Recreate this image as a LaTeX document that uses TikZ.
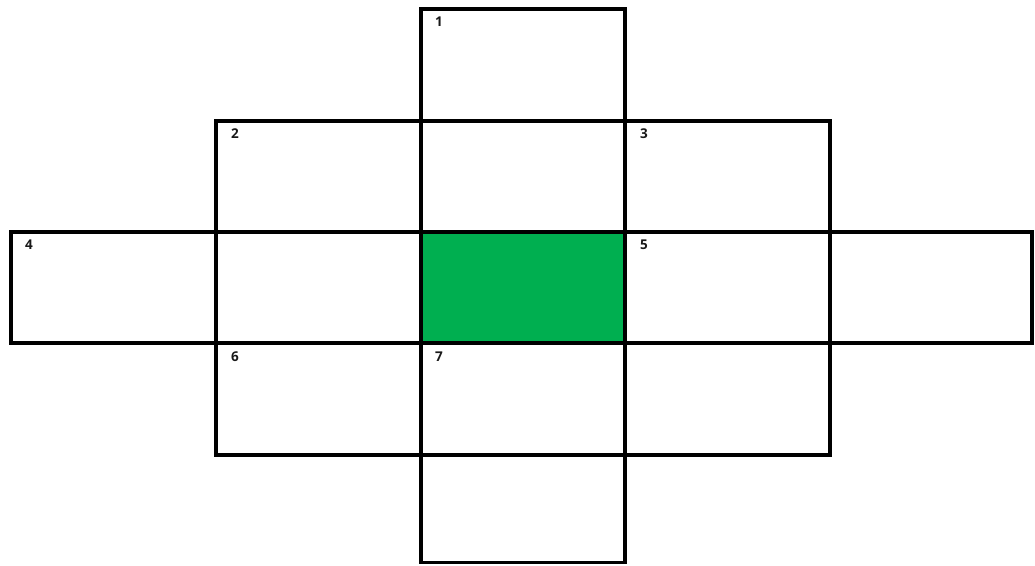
\documentclass[tikz,border=0pt]{standalone}
\usepackage{fontspec}
\setmainfont{Open Sans}
\definecolor{cellgreen}{HTML}{00AF50}
\tikzset{
  cell/.style={draw=black, line width=3.6pt, line join=miter},
  greencell/.style={cell, fill=cellgreen},
  num/.style={anchor=west, inner sep=0pt, font=\fontsize{13.5}{14}\selectfont\bfseries, text=black!90}
}
\begin{document}
\begin{tikzpicture}[x=1pt,y=-1pt]
\useasboundingbox (0,0) rectangle (1035,565);
% column edges: 11, 216, 421, 625, 830, 1032 ; row edges: 9, 121, 232, 343, 455, 563
\draw[greencell] (421,232) rectangle (625,343);
% row 0
\draw[cell] (421,9) rectangle (625,121);
% row 1
\draw[cell] (216,121) rectangle (421,232);
\draw[cell] (421,121) rectangle (625,232);
\draw[cell] (625,121) rectangle (830,232);
% row 2
\draw[cell] (11,232) rectangle (216,343);
\draw[cell] (216,232) rectangle (421,343);
\draw[cell] (625,232) rectangle (830,343);
\draw[cell] (830,232) rectangle (1032,343);
% row 3
\draw[cell] (216,343) rectangle (421,455);
\draw[cell] (421,343) rectangle (625,455);
\draw[cell] (625,343) rectangle (830,455);
% row 4
\draw[cell] (421,455) rectangle (625,562.5);
% labels
\node[num] (n1) at (435,22) {1};
\node[num] (n2) at (231,134) {2};
\node[num] (n3) at (640,134) {3};
\node[num] (n4) at (25,245) {4};
\node[num] (n5) at (640,245) {5};
\node[num] (n6) at (231,357) {6};
\node[num] (n7) at (435,357) {7};
\end{tikzpicture}
\end{document}
